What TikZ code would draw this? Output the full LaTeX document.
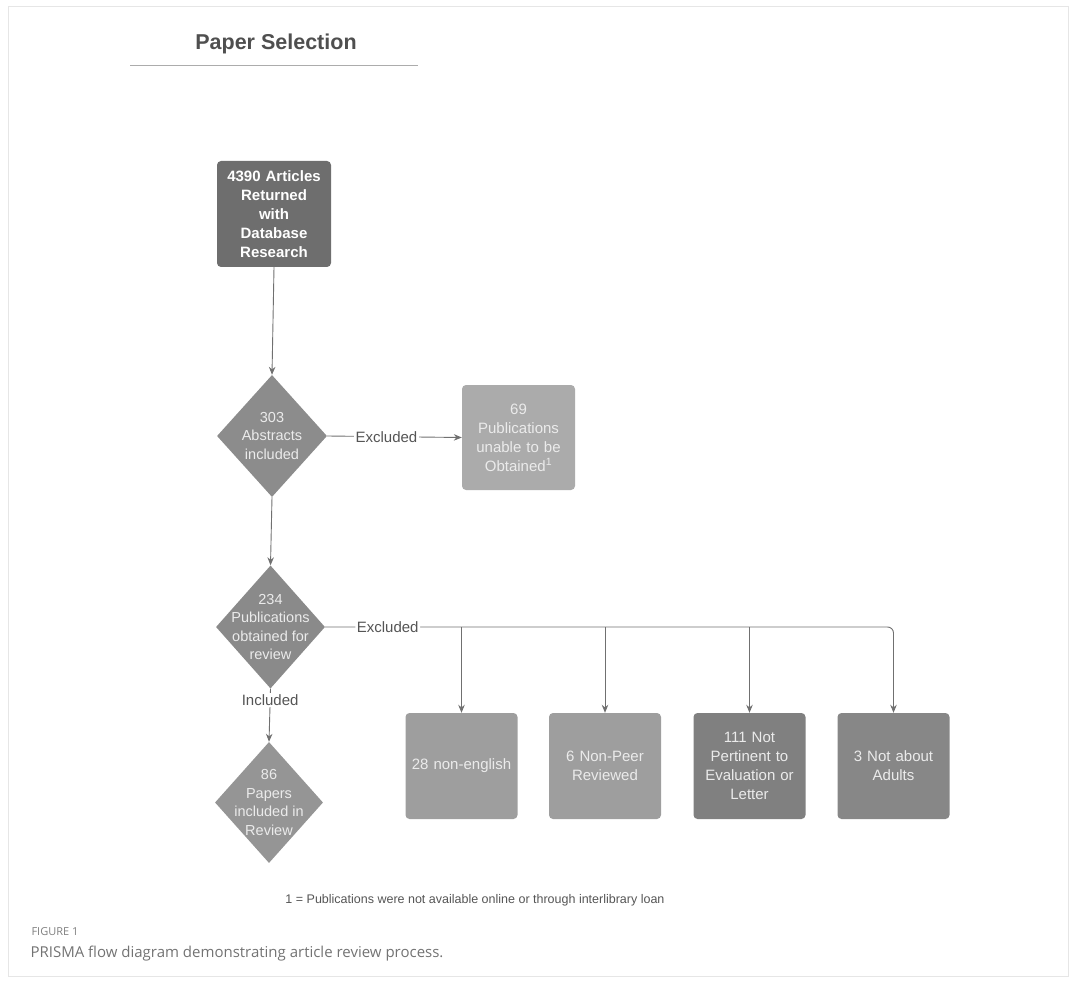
\documentclass[tikz,border=0pt]{standalone}
\usepackage{fontspec}
\setmainfont{Liberation Sans}
\newfontfamily\capfont{Open Sans}
\usetikzlibrary{shapes.geometric,arrows.meta}
\definecolor{boxdark}{HTML}{6E6E6E}
\definecolor{diaA}{HTML}{8C8C8C}
\definecolor{diaB}{HTML}{8A8A8A}
\definecolor{diaC}{HTML}{959595}
\definecolor{boxlight}{HTML}{ABABAB}
\definecolor{boxmid}{HTML}{9E9E9E}
\definecolor{boxmd}{HTML}{808080}
\definecolor{boxme}{HTML}{878787}
\definecolor{linegray}{HTML}{707070}
\definecolor{labelgray}{HTML}{555555}
\definecolor{titlegray}{HTML}{4F4F4F}
\definecolor{framegray}{HTML}{E6E6E6}
\begin{document}
\begin{tikzpicture}[x=1pt,y=-1pt,
  box/.style={rectangle, rounded corners=4pt, minimum width=112pt, minimum height=106pt,
    inner sep=2pt, text width=106pt, align=center, text=white!92!black,
    font=\fontsize{15}{19}\selectfont},
  dia/.style={diamond, minimum width=110pt, minimum height=122pt, inner sep=0pt},
  dtext/.style={align=center, text=white!92!black, font=\fontsize{14.5}{18.5}\selectfont},
  conn/.style={draw=linegray, line width=0.9pt},
  arr/.style={conn, -{Stealth[length=8pt,width=6.5pt]}, color=linegray},
  lbl/.style={fill=white, inner sep=1.5pt, text=labelgray, font=\fontsize{15}{18}\selectfont}]
\path[use as bounding box] (0,0) rectangle (1073,981);
\draw[framegray, line width=1pt] (8,7) rectangle (1068,976);

% title
\node[font=\bfseries\fontsize{21.5}{24}\selectfont, text=titlegray] (title) at (276,44) {Paper Selection};
\draw[gray!65, line width=1pt] (130,66) -- (418,66);

% nodes
\node[box, fill=boxdark, font=\bfseries\fontsize{15}{19}\selectfont, text=white, minimum width=112pt, text width=110pt] (a) at (274,214) {4390 Articles\\Returned\\with\\Database\\Research};
\node[dia, fill=diaA] (d1) at (272,436) {};
\node[dtext] (t1) at (d1) {303\\Abstracts\\included};
\node[box, fill=boxlight, minimum width=113pt, minimum height=105pt] (b69) at (518.5,437.5) {69\\Publications\\unable to be\\Obtained\textsuperscript{1}};
\node[dia, fill=diaB, minimum width=109pt, minimum height=123pt] (d2) at (270.5,627) {};
\node[dtext] (t2) at (d2) {234\\Publications\\obtained for\\review};
\node[dia, fill=diaC, minimum width=108pt, minimum height=121pt] (d3) at (269,802.5) {};
\node[dtext] (t3) at (d3) {86\\Papers\\included in\\Review};

\node[box, fill=boxmid] (b1) at (461.5,766) {28 non-english};
\node[box, fill=boxmid] (b2) at (605,766) {6 Non-Peer\\Reviewed};
\node[box, fill=boxmd] (b3) at (749.5,766) {111 Not\\Pertinent to\\Evaluation or\\Letter};
\node[box, fill=boxme] (b4) at (893.5,766) {3 Not about\\Adults};

% connectors
\draw[arr] (a.south) -- (d1.north);
\draw[arr] (d1.east) -- node[lbl, pos=0.44] {Excluded} (b69.west);
\draw[arr] (d1.south) -- (d2.north);
\draw[arr] (d2.south) -- node[lbl, pos=0.22] {Included} (d3.north);
\draw[arr, rounded corners=6pt] (d2.east) -- node[lbl, pos=0.11] {Excluded} (b4.north |- d2.east) -- (b4.north);
\draw[arr] (b1.north |- d2.east) -- (b1.north);
\draw[arr] (b2.north |- d2.east) -- (b2.north);
\draw[arr] (b3.north |- d2.east) -- (b3.north);

% notes
\node[font=\fontsize{12.5}{14}\selectfont, text=labelgray] (fn) at (475,900) {1 = Publications were not available online or through interlibrary loan};
\node[anchor=west, font=\capfont\fontsize{11}{13}\selectfont, text=gray] (figl) at (28,932) {FIGURE 1};
\node[anchor=west, font=\capfont\fontsize{15}{18}\selectfont, text=gray!90!black] (cap) at (27,954) {PRISMA flow diagram demonstrating article review process.};
\end{tikzpicture}
\end{document}
